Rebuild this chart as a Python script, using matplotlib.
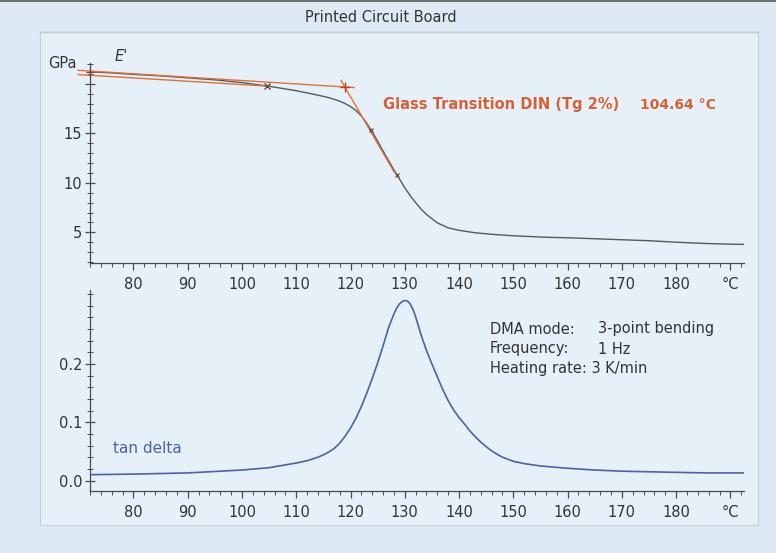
import numpy as np
import matplotlib
matplotlib.use("Agg")
import matplotlib.pyplot as plt
from matplotlib.patches import Rectangle
from matplotlib.lines import Line2D
from matplotlib.ticker import MultipleLocator, FixedLocator

# storage modulus E' (GPa) vs temperature
temp_e = [72, 76, 80, 85, 90, 95, 100, 105, 110, 112, 114, 116, 118, 119, 120,
          121, 122, 123, 124, 125, 126, 127, 128, 129, 130, 131, 132, 133, 134,
          136, 138, 140, 143, 146, 150, 156, 160, 165, 170, 175, 180, 185, 190, 192.5]
e_mod = [21.2, 21.1, 20.95, 20.8, 20.6, 20.4, 20.12, 19.75, 19.3, 19.08, 18.85, 18.6,
         18.25, 18.0, 17.7, 17.3, 16.75, 16.0, 15.15, 14.2, 13.2, 12.25, 11.3, 10.4,
         9.5, 8.7, 8.0, 7.35, 6.8, 5.95, 5.45, 5.2, 4.95, 4.8, 4.65, 4.5, 4.45, 4.35,
         4.25, 4.15, 4.0, 3.88, 3.8, 3.78]

# loss factor tan delta vs temperature
temp_tan = [72, 80, 90, 100, 105, 110, 112, 114, 115, 116, 117, 118, 119, 120, 121,
            122, 123, 124, 125, 126, 127, 128, 128.5, 129, 129.5, 130, 130.5, 131,
            131.5, 132, 133, 134, 135, 136, 137, 138, 139, 140, 141, 142, 143, 144,
            145, 146, 147, 148, 150, 152, 155, 160, 165, 170, 175, 180, 186, 192.5]
tan_delta = [0.010, 0.011, 0.013, 0.018, 0.022, 0.030, 0.034, 0.040, 0.044, 0.049,
             0.055, 0.064, 0.076, 0.090, 0.107, 0.127, 0.150, 0.175, 0.202, 0.231,
             0.262, 0.286, 0.296, 0.303, 0.307, 0.309, 0.308, 0.303, 0.294, 0.281,
             0.250, 0.223, 0.200, 0.178, 0.156, 0.137, 0.121, 0.108, 0.097, 0.085,
             0.075, 0.066, 0.058, 0.051, 0.045, 0.040, 0.033, 0.029, 0.025, 0.021,
             0.018, 0.016, 0.015, 0.014, 0.013, 0.013]

# Tg evaluation (DIN, 2% deviation from glassy tangent)
tg = 104.64
glass_tan_t = [69.8, 120.7]
glass_tan_e = [21.36, 19.62]
steep_tan_t = [118.25, 128.07]
steep_tan_e = [20.35, 11.06]
steep_pts_t = [123.8, 128.6]

x_ticks = [80, 90, 100, 110, 120, 130, 140, 150, 160, 170, 180, 190]
x_labels = ["80", "90", "100", "110", "120", "130", "140", "150", "160", "170", "180", "°C"]

outer_bg = "#dde9f5"
panel_bg = "#e6f0f9"
axis_col = "#4a4a4a"
text_col = "#333333"
orange = "#e0703a"
blue = "#4a62a6"

plt.rcParams["font.family"] = ["DejaVu Sans"]
plt.rcParams["font.size"] = 10

fig = plt.figure(figsize=(7.76, 5.53), dpi=100, facecolor=outer_bg)
W, H = 776, 553

def fx(px):
    return px / W

def fy(py):
    return 1 - py / H

# panel, title strip and top border
fig.patches.append(Rectangle((fx(40), fy(525)), fx(758) - fx(40), fy(32) - fy(525),
                             transform=fig.transFigure, facecolor=panel_bg,
                             edgecolor="#c4ccd4", lw=0.8, zorder=-5))
fig.lines.append(Line2D([fx(40), fx(758)], [fy(32), fy(32)], transform=fig.transFigure,
                        color="#c0c8d0", lw=1.0, zorder=-4))
fig.patches.append(Rectangle((0, fy(2)), 1, 2 / H, transform=fig.transFigure,
                             facecolor="#6e6e6e", edgecolor="none", zorder=5))
fig.text(fx(381), fy(17), "Printed Circuit Board", ha="center", va="center",
         fontsize=10.5, color=text_col)

ax1 = fig.add_axes([fx(90), fy(263), fx(744) - fx(90), fy(63) - fy(263)])
ax2 = fig.add_axes([fx(90), fy(491), fx(744) - fx(90), fy(290) - fy(491)])

for ax in (ax1, ax2):
    ax.set_facecolor("none")
    ax.spines["top"].set_visible(False)
    ax.spines["right"].set_visible(False)
    for s in ("left", "bottom"):
        ax.spines[s].set_color(axis_col)
        ax.spines[s].set_linewidth(0.9)
    ax.set_xlim(72, 192.5)
    ax.xaxis.set_major_locator(FixedLocator(x_ticks))
    ax.set_xticklabels(x_labels)
    ax.xaxis.set_minor_locator(MultipleLocator(2))
    ax.tick_params(axis="x", which="major", direction="out", length=5, width=0.9,
                   colors=axis_col, labelcolor=text_col, labelsize=10.5, pad=5)
    ax.tick_params(axis="x", which="minor", direction="out", length=3, width=0.7,
                   colors=axis_col)
    ax.tick_params(axis="y", which="major", direction="inout", length=7, width=0.9,
                   colors=axis_col, labelcolor=text_col, labelsize=10.5, pad=2)
    ax.tick_params(axis="y", which="minor", direction="inout", length=4, width=0.7,
                   colors=axis_col)

# upper panel: E'
ax1.set_ylim(1.9, 22.1)
ax1.yaxis.set_major_locator(FixedLocator([5, 10, 15, 20]))
ax1.set_yticklabels(["5", "10", "15", ""])
ax1.yaxis.set_minor_locator(MultipleLocator(1))
ax1.plot(temp_e, e_mod, color="#585858", lw=1.0, zorder=3)

gt = np.array(glass_tan_t)
ge = np.array(glass_tan_e)
ax1.plot(gt, ge, color=orange, lw=1.0, clip_on=False, zorder=4)
slope_g = (ge[1] - ge[0]) / (gt[1] - gt[0])
off_t = np.array([gt[0], tg])
off_e = 0.98 * (ge[0] + slope_g * (off_t - gt[0]))
ax1.plot(off_t, off_e, color=orange, lw=1.0, clip_on=False, zorder=4)
ax1.plot(steep_tan_t, steep_tan_e, color=orange, lw=1.0, zorder=4)

slope_s = (steep_tan_e[1] - steep_tan_e[0]) / (steep_tan_t[1] - steep_tan_t[0])
t_cross = (steep_tan_e[0] - ge[0] + slope_g * gt[0] - slope_s * steep_tan_t[0]) / (slope_g - slope_s)
e_cross = ge[0] + slope_g * (t_cross - gt[0])
ax1.plot([t_cross], [e_cross], marker="+", ms=7, mew=1.0, color="#c0392b", zorder=5)
ax1.plot([tg], [np.interp(tg, temp_e, e_mod)], marker="x", ms=5, mew=1.0,
         color="#6a4a3a", zorder=5)
ax1.plot(steep_pts_t, np.interp(steep_pts_t, temp_e, e_mod), ls="none", marker="x",
         ms=3, mew=0.9, color="#6a4a3a", zorder=5)
ax1.plot([temp_e[0]], [e_mod[0]], marker="+", ms=6, mew=0.9, color="#6a4a3a",
         clip_on=False, zorder=5)

ax1.text(-0.021, 0.995, "GPa", transform=ax1.transAxes, ha="right", va="center",
         fontsize=10.5, color=text_col)
ax1.text(0.038, 1.03, "E'", transform=ax1.transAxes, ha="left", va="center",
         fontsize=10.5, style="italic", color=text_col)
ax1.text(0.448, 0.79, "Glass Transition DIN (Tg 2%)", transform=ax1.transAxes,
         ha="left", va="center", fontsize=10.5, fontweight="semibold", color="#d95f35")
ax1.text(0.841, 0.79, f"{tg:.2f} °C", transform=ax1.transAxes,
         ha="left", va="center", fontsize=10, fontweight="semibold", color="#d95f35")

# lower panel: tan delta
ax2.set_ylim(-0.018, 0.327)
ax2.yaxis.set_major_locator(FixedLocator([0.0, 0.1, 0.2]))
ax2.set_yticklabels(["0.0", "0.1", "0.2"])
ax2.yaxis.set_minor_locator(MultipleLocator(0.02))
ax2.plot(temp_tan, tan_delta, color=blue, lw=1.2, zorder=3)

ax2.text(0.035, 0.21, "tan delta", transform=ax2.transAxes, ha="left", va="center",
         fontsize=11, color=blue)
info_x = (490 - 90) / 654
val_x = (598 - 90) / 654
for row_y, lab, val in [(329, "DMA mode:", "3-point bending"),
                        (349, "Frequency:", "1 Hz")]:
    yy = (491 - row_y) / 201
    ax2.text(info_x, yy, lab, transform=ax2.transAxes, ha="left", va="center",
             fontsize=10.5, color=text_col)
    ax2.text(val_x, yy, val, transform=ax2.transAxes, ha="left", va="center",
             fontsize=10.5, color=text_col)
ax2.text(info_x, (491 - 369) / 201, "Heating rate: 3 K/min", transform=ax2.transAxes,
         ha="left", va="center", fontsize=10.5, color=text_col)

fig.savefig("out.png", dpi=100, facecolor=fig.get_facecolor())
